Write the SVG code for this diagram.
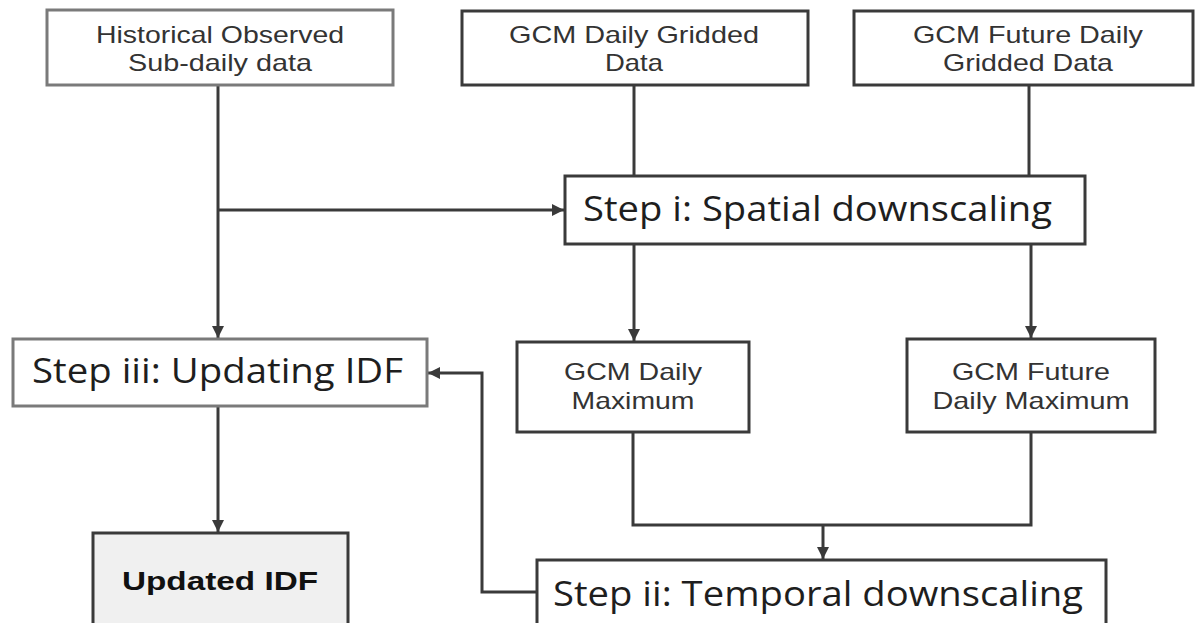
<svg xmlns="http://www.w3.org/2000/svg" width="1197" height="623" viewBox="0 0 1197 623">
<style>
.box{fill:#fff;stroke:#3a3a3a;stroke-width:3}
.gbox{fill:#fff;stroke:#7a7a7a;stroke-width:3}
.fbox{fill:#f0f0f0;stroke:#3a3a3a;stroke-width:3}
.a{font-family:"Liberation Sans",Arial,sans-serif;font-size:24px;fill:#333;text-anchor:middle}
.b{font-family:"Liberation Sans",Arial,sans-serif;font-size:26px;font-weight:bold;fill:#111;text-anchor:middle}
.c{font-family:"Open Sans","Noto Sans",sans-serif;font-size:34px;fill:#1e1e1e}
.ln{fill:none;stroke:#3a3a3a;stroke-width:3}
</style>
<defs>
<marker id="ah" viewBox="0 0 10 10" refX="10" refY="5" markerWidth="4" markerHeight="4" orient="auto" markerUnits="strokeWidth">
<path d="M0,0 L10,5 L0,10 z" fill="#3a3a3a"/>
</marker>
</defs>
<rect width="1197" height="623" fill="#fff"/>
<g id="connectors">
<line class="ln" x1="218" y1="85" x2="218" y2="338" marker-end="url(#ah)"/>
<line class="ln" x1="218" y1="210" x2="564" y2="210" marker-end="url(#ah)"/>
<line class="ln" x1="634" y1="85" x2="634" y2="176"/>
<line class="ln" x1="1029" y1="85" x2="1029" y2="176"/>
<line class="ln" x1="634" y1="244" x2="634" y2="341" marker-end="url(#ah)"/>
<line class="ln" x1="1031" y1="244" x2="1031" y2="338" marker-end="url(#ah)"/>
<line class="ln" x1="218" y1="406" x2="218" y2="532" marker-end="url(#ah)"/>
<polyline class="ln" points="633,432 633,525 1031,525 1031,432"/>
<line class="ln" x1="823" y1="525" x2="823" y2="559" marker-end="url(#ah)"/>
<polyline class="ln" points="537,592 482,592 482,373 428,373" marker-end="url(#ah)"/>
</g>
<g id="historical">
<rect class="gbox" x="47" y="10" width="346" height="75"/>
<text class="a" x="220" y="43" textLength="248" lengthAdjust="spacingAndGlyphs">Historical Observed</text>
<text class="a" x="220" y="71" textLength="184" lengthAdjust="spacingAndGlyphs">Sub-daily data</text>
</g>
<g id="gcm-daily">
<rect class="box" x="462" y="11" width="346" height="74"/>
<text class="a" x="634" y="43" textLength="250" lengthAdjust="spacingAndGlyphs">GCM Daily Gridded</text>
<text class="a" x="634" y="71" textLength="58" lengthAdjust="spacingAndGlyphs">Data</text>
</g>
<g id="gcm-future">
<rect class="box" x="854" y="11" width="339" height="74"/>
<text class="a" x="1028" y="43" textLength="230" lengthAdjust="spacingAndGlyphs">GCM Future Daily</text>
<text class="a" x="1028" y="71" textLength="170" lengthAdjust="spacingAndGlyphs">Gridded Data</text>
</g>
<g id="step-i">
<rect class="box" x="565" y="176" width="520" height="68"/>
<text class="c" x="583" y="221" textLength="469" lengthAdjust="spacingAndGlyphs">Step i: Spatial downscaling</text>
</g>
<g id="step-iii">
<rect class="gbox" x="13" y="339" width="414" height="67"/>
<text class="c" x="32" y="383" textLength="371" lengthAdjust="spacingAndGlyphs">Step iii: Updating IDF</text>
</g>
<g id="gcm-daily-max">
<rect class="box" x="517" y="342" width="232" height="90"/>
<text class="a" x="633" y="380" textLength="138" lengthAdjust="spacingAndGlyphs">GCM Daily</text>
<text class="a" x="633" y="409" textLength="123" lengthAdjust="spacingAndGlyphs">Maximum</text>
</g>
<g id="gcm-future-max">
<rect class="box" x="907" y="339" width="248" height="93"/>
<text class="a" x="1031" y="380" textLength="158" lengthAdjust="spacingAndGlyphs">GCM Future</text>
<text class="a" x="1031" y="409" textLength="197" lengthAdjust="spacingAndGlyphs">Daily Maximum</text>
</g>
<g id="updated-idf">
<rect class="fbox" x="93" y="533" width="255" height="110"/>
<text class="b" x="220" y="590" textLength="196" lengthAdjust="spacingAndGlyphs">Updated IDF</text>
</g>
<g id="step-ii">
<rect class="box" x="537" y="560" width="569" height="80"/>
<text class="c" x="553" y="606" textLength="530" lengthAdjust="spacingAndGlyphs">Step ii: Temporal downscaling</text>
</g>
</svg>
